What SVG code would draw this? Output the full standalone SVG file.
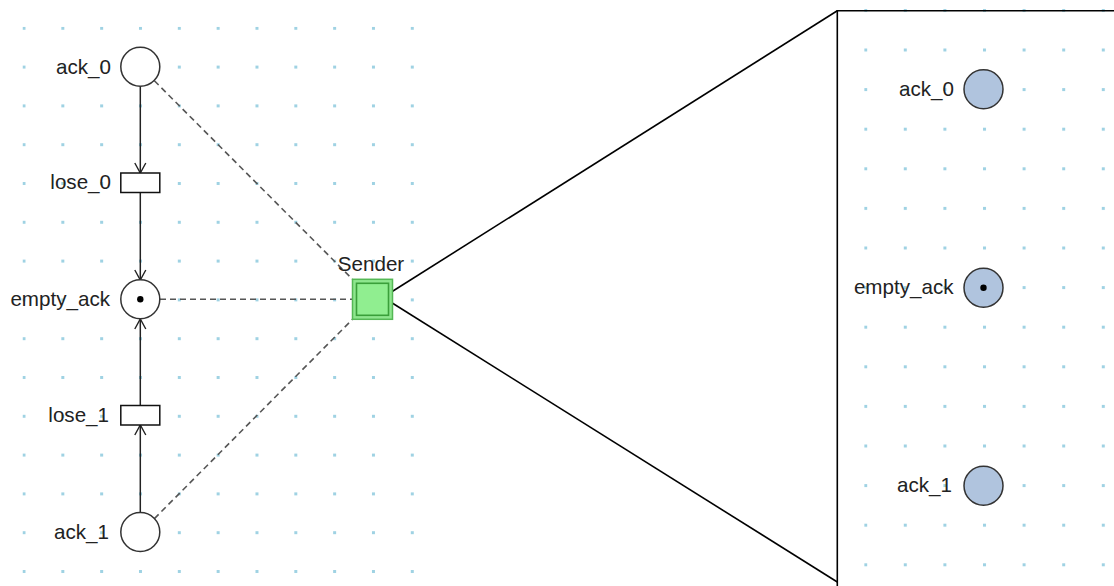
<svg xmlns="http://www.w3.org/2000/svg" width="1114" height="586" viewBox="0 0 1114 586">
<defs>
<style>
.lbl{font-family:"Liberation Sans",Arial,sans-serif;font-size:20.6px;fill:#222;}
.place{fill:#fff;stroke:#333;stroke-width:1.5;}
.placeB{fill:#b0c4de;stroke:#333;stroke-width:1.5;}
.trans{fill:#fff;stroke:#111;stroke-width:1.5;}
.arc{stroke:#222;stroke-width:1.5;fill:none;}
.dash{stroke:#555;stroke-width:1.6;stroke-dasharray:6 4;fill:none;}
.zoom{stroke:#000;stroke-width:1.6;fill:none;}
</style>
<pattern id="gridL" x="22.5" y="26.8" width="38.83" height="38.8" patternUnits="userSpaceOnUse">
<rect width="3" height="3" fill="#9fd2e3"/>
</pattern>
<pattern id="gridR" x="864.2" y="8.9" width="39.6" height="39.6" patternUnits="userSpaceOnUse">
<rect width="3" height="3" fill="#9fd2e3"/>
</pattern>
<marker id="arr" viewBox="-12 -7 14 14" refX="0" refY="0" markerWidth="14" markerHeight="14" markerUnits="userSpaceOnUse" orient="auto">
<path d="M-10,-5.5 L0,0 L-10,5.5" fill="none" stroke="#222" stroke-width="1.4"/>
</marker>
</defs>
<rect width="1114" height="586" fill="#fff"/>
<rect x="22.5" y="26.8" width="392" height="548" fill="url(#gridL)"/>
<rect x="864.2" y="8.9" width="250" height="578" fill="url(#gridR)"/>

<g id="connectors">
<line class="arc" x1="140.3" y1="86.5" x2="140.3" y2="173" marker-end="url(#arr)"/>
<line class="arc" x1="140.3" y1="192.5" x2="140.3" y2="280" marker-end="url(#arr)"/>
<line class="arc" x1="140.3" y1="405" x2="140.3" y2="319" marker-end="url(#arr)"/>
<line class="arc" x1="140.3" y1="512.5" x2="140.3" y2="425" marker-end="url(#arr)"/>
<line class="dash" x1="154.4" y1="80.8" x2="352.5" y2="279.3"/>
<line class="dash" x1="160" y1="299.3" x2="352.5" y2="299.3"/>
<line class="dash" x1="154.4" y1="518.6" x2="352.5" y2="319.3"/>
<line class="zoom" x1="389" y1="293.5" x2="837.3" y2="10.7"/>
<line class="zoom" x1="389" y1="301" x2="837.3" y2="582"/>
</g>

<g id="zoom-frame">
<polyline class="zoom" points="1114,10.7 837.3,10.7 837.3,586"/>
</g>

<g id="ack_0">
<circle class="place" cx="140.3" cy="66.7" r="19.5"/>
<text class="lbl" x="111" y="73.5" text-anchor="end">ack_0</text>
</g>
<g id="lose_0">
<rect class="trans" x="120.8" y="173" width="39" height="19.5"/>
<text class="lbl" x="111" y="189" text-anchor="end">lose_0</text>
</g>
<g id="empty_ack">
<circle class="place" cx="140.3" cy="299.3" r="19.5"/>
<circle cx="140.3" cy="299.3" r="3.2" fill="#000"/>
<text class="lbl" x="110" y="305.5" text-anchor="end">empty_ack</text>
</g>
<g id="lose_1">
<rect class="trans" x="120.8" y="405.5" width="39" height="19.5"/>
<text class="lbl" x="109" y="421.7" text-anchor="end">lose_1</text>
</g>
<g id="ack_1">
<circle class="place" cx="140.3" cy="532" r="19.5"/>
<text class="lbl" x="109" y="538.5" text-anchor="end">ack_1</text>
</g>
<g id="Sender">
<rect x="352.5" y="279.3" width="40" height="40" fill="#8ee68e" stroke="#55b855" stroke-width="1.5"/>
<rect x="356.5" y="283.3" width="32" height="32" fill="#90ee90" stroke="#3a9f3a" stroke-width="1.6"/>
<text class="lbl" x="371" y="271" text-anchor="middle">Sender</text>
</g>

<g id="r_ack_0">
<circle class="placeB" cx="983.5" cy="89.3" r="19.5"/>
<text class="lbl" x="954" y="96" text-anchor="end">ack_0</text>
</g>
<g id="r_empty_ack">
<circle class="placeB" cx="983.5" cy="287.7" r="19.5"/>
<circle cx="983.5" cy="287.7" r="3.2" fill="#000"/>
<text class="lbl" x="953.5" y="294" text-anchor="end">empty_ack</text>
</g>
<g id="r_ack_1">
<circle class="placeB" cx="983.5" cy="485.7" r="19.5"/>
<text class="lbl" x="952" y="492" text-anchor="end">ack_1</text>
</g>
</svg>
